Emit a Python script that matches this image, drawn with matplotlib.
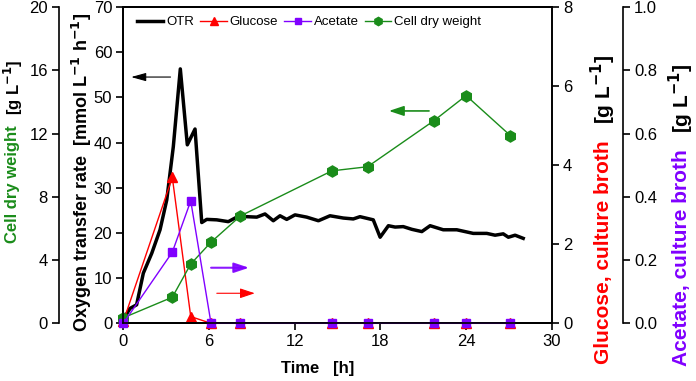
import matplotlib
matplotlib.use('Agg')
import matplotlib.pyplot as plt

plt.rcParams['font.family'] = ['Liberation Sans', 'DejaVu Sans']

# OTR (mmol L-1 h-1) vs time (h)
otr_time = [0.0, 0.47, 0.93, 1.4, 1.99, 2.57, 3.04, 3.5, 3.99, 4.48, 5.02, 5.49,
            5.84, 6.54, 7.35, 7.94, 8.64, 9.34, 9.92, 10.5, 10.97, 11.44, 12.02,
            12.84, 13.66, 14.47, 15.4, 16.1, 16.57, 17.5, 17.98, 18.56, 19.03,
            19.6, 20.2, 20.9, 21.48, 22.4, 23.35, 24.5, 25.45, 26.03, 26.6,
            26.96, 27.43, 28.0]
otr = [0.9, 3.3, 4.1, 11.1, 15.5, 20.7, 27.3, 39.1, 56.3, 39.5, 43.0, 22.3,
       23.0, 22.9, 22.5, 23.5, 23.6, 23.5, 24.2, 22.7, 23.8, 23.0, 24.0,
       23.5, 22.7, 23.8, 23.3, 23.1, 23.6, 22.9, 19.05, 21.6, 21.3,
       21.4, 20.8, 20.3, 21.6, 20.7, 20.7, 19.9, 19.9, 19.5, 19.8,
       19.05, 19.5, 18.8]

# sampling points
sample_time = [0.0, 3.43, 4.72, 6.14, 8.2, 14.6, 17.1, 21.76, 24.0, 27.1]
cdw = [0.35, 1.65, 3.75, 5.13, 6.79, 9.64, 9.9, 12.82, 14.4, 11.87]
glucose = [0.05, 3.69, 0.17, 0.0, 0.0, 0.0, 0.0, 0.0, 0.0, 0.0]
acetate = [0.0, 0.225, 0.387, 0.0, 0.0, 0.0, 0.0, 0.0, 0.0, 0.0]

GREEN = '#1A8C1A'
RED = '#FF0000'
PURPLE = '#8000FF'

fig = plt.figure(figsize=(6.96, 3.81), dpi=100)
ax = fig.add_axes([0.1772, 0.1514, 0.6156, 0.8302])
ax_cdw = ax.twinx()
ax_glc = ax.twinx()
ax_ace = ax.twinx()

# spines
ax_cdw.spines['right'].set_visible(False)
ax_cdw.spines['left'].set_position(('axes', -0.15))
ax_cdw.spines['left'].set_visible(True)
ax_cdw.yaxis.set_ticks_position('left')
ax_cdw.yaxis.set_label_position('left')
ax_ace.spines['right'].set_position(('axes', 1.166))
for a in (ax, ax_cdw, ax_glc, ax_ace):
    for s in a.spines.values():
        s.set_linewidth(1.2)
    a.tick_params(labelsize=12, width=1.2, length=5, direction='out', pad=3)

# OTR
l_otr, = ax.plot(otr_time, otr, color='black', lw=2.5, label='OTR', zorder=2)
ax.set_xlim(0, 30)
ax.set_ylim(0, 70)
ax.set_xticks([0, 6, 12, 18, 24, 30])
ax.set_yticks(range(0, 71, 10))

# Glucose
l_glc, = ax_glc.plot(sample_time, glucose, color=RED, lw=1, marker='^', ms=7,
                     label='Glucose', clip_on=False)
ax_glc.set_ylim(0, 8)
ax_glc.set_yticks([0, 2, 4, 6, 8])

# Acetate
l_ace, = ax_ace.plot(sample_time, acetate, color=PURPLE, lw=1, marker='s', ms=6,
                     label='Acetate', clip_on=False)
ax_ace.set_ylim(0, 1.0)
ax_ace.set_yticks([0.0, 0.2, 0.4, 0.6, 0.8, 1.0])
ax_ace.set_yticklabels(['0.0', '0.2', '0.4', '0.6', '0.8', '1.0'])

# Cell dry weight
l_cdw, = ax_cdw.plot(sample_time, cdw, color=GREEN, lw=1, marker='h', ms=8,
                     label='Cell dry weight', clip_on=False)
ax_cdw.set_ylim(0, 20)
ax_cdw.set_yticks([0, 4, 8, 12, 16, 20])

# z-order: acetate above glucose
ax_glc.set_zorder(1)
ax_cdw.set_zorder(2)
ax_ace.set_zorder(3)
for a in (ax_glc, ax_cdw, ax_ace):
    a.patch.set_visible(False)

# arrows (in OTR coordinates)
ax.annotate('', xy=(0.35, 54.5), xytext=(3.5, 54.5),
            arrowprops=dict(arrowstyle='-|>,head_length=0.9,head_width=0.25',
                            color='black', lw=0.8))
ax.annotate('', xy=(9.0, 12.3), xytext=(5.95, 12.3),
            arrowprops=dict(arrowstyle='-|>,head_length=0.9,head_width=0.3',
                            color=PURPLE, lw=1.5, alpha=0.9))
ax.annotate('', xy=(9.4, 6.65), xytext=(6.35, 6.65),
            arrowprops=dict(arrowstyle='-|>,head_length=0.9,head_width=0.3',
                            color=RED, lw=0.8))
ax.annotate('', xy=(18.4, 47.0), xytext=(21.6, 47.0),
            arrowprops=dict(arrowstyle='-|>,head_length=0.9,head_width=0.3',
                            color=GREEN, lw=1.2))

ax_ace.legend(handles=[l_otr, l_glc, l_ace, l_cdw], loc='upper left', ncol=4,
              frameon=False, fontsize=9.5, handlelength=2.0, handletextpad=0.2,
              columnspacing=0.5, markerscale=0.75, borderaxespad=0.3,
              bbox_to_anchor=(0.01, 1.0))

# axis labels
fig.text(318 / 696, 1 - 369 / 381, 'Time   [h]', ha='center', va='center',
         fontsize=12, fontweight='bold')

UNIT = '[g L$^{\\mathbf{-1}}$]'


def two_part_label(x_px, y_bottom_px, first, first_color, size, gap):
    """rotated label made of a coloured part and a black unit part"""
    x = x_px / 696
    y = 1 - y_bottom_px / 381
    t1 = fig.text(x, y, first, rotation=90, ha='center', va='bottom',
                  color=first_color, fontsize=size, fontweight='bold')
    fig.canvas.draw()
    bb = t1.get_window_extent()
    y2 = (bb.y1 + gap) / fig.bbox.height
    fig.text(x, y2, UNIT, rotation=90, ha='center', va='bottom',
             color='black', fontsize=size, fontweight='bold')


two_part_label(13, 243, 'Cell dry weight', GREEN, 12, 10)
two_part_label(603, 364, 'Glucose, culture broth', RED, 15, 16)
two_part_label(681, 366, 'Acetate, culture broth', PURPLE, 15, 16)
fig.text(82 / 696, 1 - 332 / 381,
         'Oxygen transfer rate  [mmol L$^{\\mathbf{-1}}$ h$^{\\mathbf{-1}}$]',
         rotation=90, ha='center', va='bottom', fontsize=13, fontweight='bold')

fig.savefig('out.png', dpi=100)
